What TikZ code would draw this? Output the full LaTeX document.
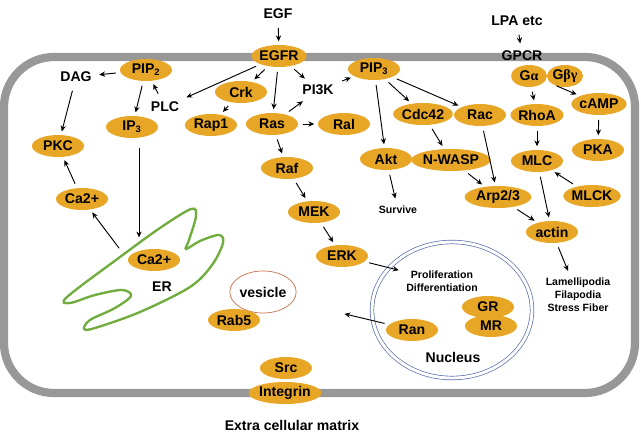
\documentclass[tikz,border=0pt]{standalone}
\usepackage{fontspec}
\setmainfont{Liberation Sans}
\newfontfamily\grk{Liberation Serif}
\usetikzlibrary{shapes.geometric,arrows.meta}
\definecolor{molfill}{RGB}{232,166,38}
\definecolor{membrane}{RGB}{152,152,152}
\definecolor{ergreen}{RGB}{112,172,62}
\definecolor{nucblue}{RGB}{90,110,175}
\definecolor{vesred}{RGB}{200,112,80}
\tikzset{
  mol/.style={ellipse, fill=molfill, inner sep=0pt, minimum width=1.56cm, minimum height=0.66cm, font=\fontsize{12}{14}\selectfont\bfseries},
  lbl/.style={font=\fontsize{12}{14}\selectfont\bfseries},
  smalltxt/.style={font=\fontsize{9}{11}\selectfont\bfseries, align=center},
  arr/.style={-{Stealth[length=5pt,width=4.5pt]}, line width=0.8pt, shorten >=3pt, shorten <=4pt},
}
\begin{document}
\begin{tikzpicture}[x=0.03cm,y=-0.03cm]
\useasboundingbox (0,0) rectangle (641,441);
% Cell membrane
\draw[membrane, line width=7pt, rounded corners=1.5cm] (4,57) rectangle (635,393);
% ER outline
\draw[ergreen, line width=2pt] plot[smooth cycle, tension=0.55] coordinates {(67,297) (120,257) (160,228) (191,209) (196,216) (189,240) (186,249) (200,241) (219,235) (223,243) (212,265) (190,287) (140,312) (95,328) (84,329) (90,320) (115,308) (131,296) (122,290) (95,295) (70,303)};
\coordinate (ertop) at (139,241);
\coordinate (erleft) at (122,252);
% Receptor at the top
\node[lbl] (egf) at (278,14) {EGF};
\node[mol] (egfr) at (279,56) {EGFR};
% PLC branch
\node[mol] (pip2) at (146,70) {PIP\textsubscript{2}};
\node[lbl] (dag) at (76,77) {DAG};
\node[lbl] (plc) at (165,107) {PLC};
\node[mol] (ip3) at (132,127) {IP\textsubscript{3}};
\node[mol] (pkc) at (58,146) {PKC};
\node[mol] (ca1) at (82,199) {Ca2+};
\node[mol] (ca2) at (154,260) {Ca2+};
\node[lbl] (er) at (162,287) {ER};
% Ras branch
\node[mol] (crk) at (241,92) {Crk};
\node[mol] (rap1) at (211,125) {Rap1};
\node[mol] (ras) at (272,124) {Ras};
\node[lbl] (pi3k) at (318,90) {PI3K};
\node[mol] (ral) at (344,124) {Ral};
\node[mol] (raf) at (287,168) {Raf};
\node[mol] (mek) at (314,212) {MEK};
\node[mol] (erk) at (342,256) {ERK};
% PIP3 branch
\node[mol] (pip3) at (374,69) {PIP\textsubscript{3}};
\node[mol] (akt) at (386,159) {Akt};
\node[smalltxt] (survive) at (398,210) {Survive};
\node[mol] (cdc42) at (423,114) {Cdc42};
\node[mol] (rac) at (480,115) {Rac};
\node[mol, minimum width=2.04cm] (nwasp) at (451,160) {N-WASP};
\node[mol, minimum width=2cm] (arp) at (498,197) {Arp2/3};
\node[mol] (actin) at (552,232) {actin};
\node[smalltxt] (lamel) at (578,295) {Lamellipodia\\Filapodia\\Stress Fiber};
% GPCR branch
\node[lbl] (lpa) at (517,21) {LPA etc};
\node[lbl] (gpcr) at (522,56) {GPCR};
\node[mol, minimum width=1.08cm] (ga) at (529,76) {G{\grk α}};
\node[mol, minimum width=1.08cm] (gbg) at (565,76) {G{\grk βγ}};
\node[mol] (rhoa) at (537,115) {RhoA};
\node[mol] (camp) at (599,104) {cAMP};
\node[mol] (pka) at (598,150) {PKA};
\node[mol] (mlc) at (537,161) {MLC};
\node[mol] (mlck) at (592,196) {MLCK};
% Nucleus
\node[ellipse, draw=nucblue, double=white, double distance=2.5pt, line width=0.6pt, minimum width=4.8cm, minimum height=4.08cm] (nucleus) at (452,310) {};
\node[smalltxt] (prolif) at (442,281) {Proliferation\\Differentiation};
\node[mol] (gr) at (488,307) {GR};
\node[mol] (mr) at (491,326) {MR};
\node[mol] (ran) at (412,330) {Ran};
\node[lbl] (nuctext) at (453,357) {Nucleus};
\coordinate (ranout) at (341,313);
% Vesicle and membrane bottom
\node[ellipse, draw=vesred, fill=white, line width=0.6pt, inner sep=0pt, minimum width=1.92cm, minimum height=1.26cm, lbl] (vesicle) at (263,292) {vesicle};
\node[mol] (rab5) at (234,320) {Rab5};
\node[mol] (src) at (286,368) {Src};
\node[mol, minimum width=2.1cm] (integrin) at (285,393) {Integrin};
\node[lbl] (ecm) at (292,425) {Extra cellular matrix};
% Arrows from EGFR
\draw[arr] (egf) -- (egfr);
\draw[arr] (egfr) -- (plc);
\draw[arr] (egfr) -- (crk);
\draw[arr] (egfr) -- (ras);
\draw[arr] (egfr) -- (pi3k);
\draw[arr] (plc) -- (pip2);
\draw[arr] (pip2) -- (dag);
\draw[arr] (pip2) -- (ip3);
\draw[arr] (dag) -- (pkc);
\draw[arr, shorten <=8pt] (ertop |- ip3.south) -- (ertop);
\draw[arr] (erleft) -- (ca1);
\draw[arr] (ca1) -- (pkc);
\draw[arr] (crk) -- (rap1);
\draw[arr] (ras) -- (pi3k);
\draw[arr] (pi3k) -- (pip3);
\draw[arr] (ras) -- (ral);
\draw[arr] (ras) -- (raf);
\draw[arr] (raf) -- (mek);
\draw[arr] (mek) -- (erk);
\draw[arr] (erk) -- (prolif);
% Arrows from PIP3
\draw[arr] (pip3) -- (akt);
\draw[arr] (pip3) -- (cdc42);
\draw[arr] (pip3) -- (rac);
\draw[arr] (akt) -- (survive);
\draw[arr] (cdc42) -- (nwasp);
\draw[arr] (rac) -- (arp);
\draw[arr] (nwasp) -- (arp);
\draw[arr] (arp) -- (actin);
\draw[arr] (actin) -- (lamel);
% Arrows from GPCR
\draw[arr] (lpa) -- (gpcr);
\draw[arr] (ga) -- (rhoa);
\draw[arr] (gbg.south west) -- (camp);
\draw[arr] (camp) -- (pka);
\draw[arr] (rhoa) -- (mlc);
\draw[arr] (mlck) -- (mlc);
\draw[arr] (mlc) -- (actin);
% Export from nucleus
\draw[arr] (ran) -- (ranout);
\end{tikzpicture}
\end{document}
